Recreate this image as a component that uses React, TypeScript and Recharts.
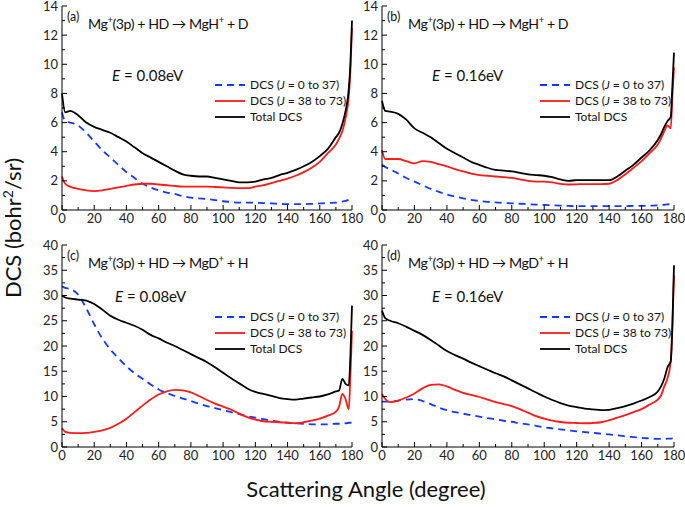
import { LineChart, Line, XAxis, YAxis } from 'recharts';

// scattering angle grid shared by every panel (degree)
const angles = [0, 2, 5, 10, 15, 20, 25, 30, 35, 40, 45, 50, 55, 60, 65, 70, 75, 80, 85, 90, 95, 100, 105, 110, 115, 120, 125, 130, 135, 140, 145, 150, 155, 160, 165, 170, 172, 174, 176, 178, 179, 180];

// (a) MgH+ + D, E = 0.08 eV
const lowJ_a = [6.7, 6.1, 6.0, 5.8, 5.3, 4.7, 4.1, 3.6, 3.1, 2.6, 2.2, 1.8, 1.55, 1.35, 1.2, 1.1, 0.95, 0.85, 0.8, 0.75, 0.68, 0.6, 0.55, 0.5, 0.5, 0.5, 0.47, 0.45, 0.42, 0.4, 0.4, 0.4, 0.42, 0.45, 0.48, 0.5, 0.55, 0.58, 0.62, 0.7, 0.75, 0.8];
const highJ_a = [2.3, 1.8, 1.6, 1.45, 1.35, 1.3, 1.35, 1.45, 1.55, 1.65, 1.75, 1.8, 1.8, 1.75, 1.7, 1.65, 1.6, 1.6, 1.6, 1.6, 1.58, 1.55, 1.52, 1.5, 1.5, 1.6, 1.7, 1.85, 2.0, 2.15, 2.35, 2.6, 2.9, 3.3, 3.9, 4.5, 4.9, 5.4, 6.3, 7.8, 9.5, 12.5];
const total_a = [8.0, 6.7, 6.8, 6.5, 6.0, 5.7, 5.5, 5.3, 5.0, 4.7, 4.3, 3.9, 3.6, 3.3, 3.0, 2.7, 2.45, 2.35, 2.3, 2.3, 2.2, 2.1, 2.0, 1.9, 1.9, 1.95, 2.1, 2.2, 2.4, 2.55, 2.75, 3.0, 3.3, 3.7, 4.2, 5.0, 5.3, 5.9, 6.8, 8.3, 10.0, 13.0];

// (b) MgH+ + D, E = 0.16 eV
const lowJ_b = [3.1, 2.95, 2.8, 2.5, 2.2, 1.95, 1.7, 1.45, 1.25, 1.07, 0.93, 0.8, 0.7, 0.62, 0.56, 0.52, 0.48, 0.46, 0.43, 0.4, 0.37, 0.35, 0.32, 0.3, 0.28, 0.27, 0.27, 0.27, 0.27, 0.27, 0.27, 0.27, 0.28, 0.28, 0.3, 0.32, 0.34, 0.36, 0.38, 0.41, 0.43, 0.45];
const highJ_b = [4.1, 3.5, 3.5, 3.5, 3.35, 3.2, 3.35, 3.3, 3.15, 3.0, 2.8, 2.65, 2.5, 2.4, 2.35, 2.3, 2.25, 2.2, 2.1, 2.0, 1.95, 1.95, 1.9, 1.8, 1.75, 1.76, 1.78, 1.78, 1.78, 1.8, 2.05, 2.45, 2.9, 3.35, 3.9, 4.5, 4.9, 5.4, 5.8, 5.6, 7.8, 9.8];
const total_b = [7.5, 6.8, 6.75, 6.6, 6.2, 5.6, 5.3, 5.0, 4.6, 4.2, 3.9, 3.6, 3.3, 3.1, 2.9, 2.75, 2.7, 2.65, 2.55, 2.45, 2.4, 2.35, 2.25, 2.1, 2.0, 2.05, 2.05, 2.05, 2.05, 2.05, 2.3, 2.7, 3.1, 3.6, 4.1, 4.8, 5.2, 5.7, 6.1, 6.4, 8.5, 10.8];

// (c) MgD+ + H, E = 0.08 eV
const lowJ_c = [31.8, 31.5, 31.3, 30.2, 27.5, 24.3, 21.5, 19.3, 17.6, 16.0, 14.6, 13.5, 12.4, 11.4, 10.7, 10.1, 9.6, 9.1, 8.6, 8.1, 7.7, 7.3, 6.9, 6.5, 6.1, 5.8, 5.5, 5.2, 5.0, 4.8, 4.7, 4.6, 4.5, 4.5, 4.5, 4.6, 4.6, 4.7, 4.7, 4.8, 4.8, 4.9];
const highJ_c = [3.7, 3.0, 2.8, 2.75, 2.8, 3.0, 3.3, 3.8, 4.6, 5.6, 6.9, 8.2, 9.4, 10.4, 11.0, 11.3, 11.2, 10.8, 10.1, 9.3, 8.6, 8.0, 7.4, 6.6, 5.9, 5.4, 5.1, 5.0, 4.9, 4.8, 4.7, 4.9, 5.2, 5.6, 6.2, 7.0, 8.0, 10.5, 9.5, 7.5, 14.0, 23.0];
const total_c = [30.0, 29.6, 29.4, 29.2, 29.0, 28.3, 27.2, 26.0, 25.2, 24.6, 24.0, 23.2, 22.2, 21.5, 20.7, 20.0, 19.2, 18.4, 17.6, 16.8, 15.8, 14.7, 13.6, 12.6, 11.6, 10.9, 10.5, 10.1, 9.7, 9.5, 9.4, 9.6, 9.8, 10.0, 10.4, 11.0, 11.2, 13.5, 12.5, 12.2, 18.0, 28.0];

// (d) MgD+ + H, E = 0.16 eV
const lowJ_d = [9.0, 9.0, 9.0, 9.2, 9.4, 9.5, 9.1, 8.5, 7.8, 7.3, 6.9, 6.6, 6.3, 6.0, 5.7, 5.5, 5.2, 5.0, 4.7, 4.5, 4.2, 3.9, 3.7, 3.5, 3.3, 3.1, 2.95, 2.8, 2.65, 2.5, 2.3, 2.1, 1.95, 1.8, 1.7, 1.6, 1.6, 1.6, 1.65, 1.65, 1.7, 1.7];
const highJ_d = [10.5, 9.5, 8.9, 9.2, 9.8, 10.6, 11.6, 12.3, 12.4, 12.0, 11.3, 10.7, 10.3, 9.9, 9.4, 8.9, 8.5, 8.1, 7.5, 6.8, 6.1, 5.6, 5.2, 4.95, 4.8, 4.75, 4.7, 4.75, 4.9, 5.3, 5.8, 6.3, 6.9, 7.5, 8.4, 9.4, 10.2, 12.0, 13.6, 17.0, 24.0, 34.0];
const total_d = [27.0, 25.5, 25.0, 24.5, 23.8, 23.0, 22.2, 21.2, 20.1, 19.0, 18.2, 17.5, 16.7, 16.0, 15.3, 14.6, 14.0, 13.2, 12.4, 11.6, 10.8, 10.0, 9.3, 8.7, 8.2, 7.9, 7.6, 7.45, 7.3, 7.35, 7.7, 8.1, 8.6, 9.2, 9.9, 11.0, 12.0, 13.5, 15.8, 17.0, 24.0, 36.0];

const xTicks = [0, 10, 20, 30, 40, 50, 60, 70, 80, 90, 100, 110, 120, 130, 140, 150, 160, 170, 180];
const yTicksSmall = [0, 1, 2, 3, 4, 5, 6, 7, 8, 9, 10, 11, 12, 13, 14];
const yTicksLarge = [0, 2.5, 5, 7.5, 10, 12.5, 15, 17.5, 20, 22.5, 25, 27.5, 30, 32.5, 35, 37.5, 40];

const FONT = 'Lato, "DejaVu Sans", sans-serif';
const BLUE = '#1438ff';
const RED = '#ff1a1a';

const legendLabels = [
  { range: '0 to 37', color: BLUE, dash: '7 5' },
  { range: '38 to 73', color: RED, dash: undefined },
];

function buildRows(low: number[], high: number[], total: number[]) {
  return angles.map((a, i) => ({ angle: a, low: low[i], high: high[i], total: total[i] }));
}

// inward tick marks, labels only on the major ones
function AxisTick(props: any) {
  const { x, y, payload, side, major, labels } = props;
  const v = payload.value as number;
  const isMajor = Math.abs(v / major - Math.round(v / major)) < 1e-6;
  const len = isMajor ? 5 : 3;
  const txt = labels && isMajor;
  if (side === 'bottom') {
    return (
      <g>
        <line x1={x} y1={y} x2={x} y2={y - len} stroke="#000" />
        {txt && <text x={x} y={y + 13} textAnchor="middle" fontSize={13} fill="#222" fontFamily={FONT}>{v}</text>}
      </g>
    );
  }
  if (side === 'top') return <line x1={x} y1={y} x2={x} y2={y + len} stroke="#000" />;
  if (side === 'left') {
    return (
      <g>
        <line x1={x} y1={y} x2={x + len} y2={y} stroke="#000" />
        {txt && <text x={x - 4} y={y + 4.5} textAnchor="end" fontSize={13} fill="#222" fontFamily={FONT}>{v}</text>}
      </g>
    );
  }
  return <line x1={x} y1={y} x2={x - len} y2={y} stroke="#000" />;
}

interface PanelProps {
  left: number;
  top: number;
  width: number;
  height: number;
  right: number;
  yMax: number;
  yTicks: number[];
  yMajor: number;
  rows: { angle: number; low: number; high: number; total: number }[];
}

function Panel({ left, top, width, height, right, yMax, yTicks, yMajor, rows }: PanelProps) {
  const axisCommon = { tickSize: 0, tickMargin: 0, tickLine: false, interval: 0 as const, axisLine: { stroke: '#000' } };
  return (
    <div style={{ position: 'absolute', left, top }}>
      <LineChart width={width} height={height} data={rows} margin={{ top: 16, right, bottom: 0, left: 0 }}>
        <XAxis dataKey="angle" type="number" domain={[0, 180]} ticks={xTicks} height={25} {...axisCommon}
          tick={<AxisTick side="bottom" major={20} labels />} />
        <XAxis xAxisId="top" orientation="top" dataKey="angle" type="number" domain={[0, 180]} ticks={xTicks} height={0} {...axisCommon}
          tick={<AxisTick side="top" major={20} />} />
        <YAxis type="number" domain={[0, yMax]} ticks={yTicks} width={62} allowDataOverflow {...axisCommon}
          tick={<AxisTick side="left" major={yMajor} labels />} />
        <YAxis yAxisId="right" orientation="right" type="number" domain={[0, yMax]} ticks={yTicks} width={0} {...axisCommon}
          tick={<AxisTick side="right" major={yMajor} />} />
        <Line type="monotone" dataKey="low" stroke={BLUE} strokeWidth={1.8} strokeDasharray="7 5" dot={false} isAnimationActive={false} />
        <Line type="monotone" dataKey="high" stroke={RED} strokeWidth={1.8} dot={false} isAnimationActive={false} />
        <Line type="monotone" dataKey="total" stroke="#000" strokeWidth={1.8} dot={false} isAnimationActive={false} />
      </LineChart>
    </div>
  );
}

function Reaction({ x, y, tag, product, leftover }: { x: number; y: number; tag: string; product: string; leftover: string }) {
  return (
    <g fontFamily={FONT} fill="#111">
      <text x={x - 21} y={y - 8} fontSize={12.5}>{tag}</text>
      <text x={x} y={y} fontSize={14.2} letterSpacing={-0.45}>
        Mg<tspan dy={-6} fontSize={9.5}>+</tspan>
        <tspan dy={6}>{'(3p) + HD \u2192 ' + product}</tspan>
        <tspan dy={-6} fontSize={9.5}>+</tspan>
        <tspan dy={6}>{' + ' + leftover}</tspan>
      </text>
    </g>
  );
}

function Energy({ x, y, value }: { x: number; y: number; value: string }) {
  return (
    <text x={x} y={y} fontSize={15} fontFamily={FONT} fill="#111">
      <tspan fontStyle="italic">E</tspan>{' = ' + value + 'eV'}
    </text>
  );
}

function LegendBox({ x, y }: { x: number; y: number }) {
  return (
    <g fontFamily={FONT} fontSize={12} fill="#111">
      {legendLabels.map((l, i) => (
        <g key={l.range}>
          <line x1={x} x2={x + 30} y1={y + i * 16} y2={y + i * 16} stroke={l.color} strokeWidth={1.8} strokeDasharray={l.dash} />
          <text x={x + 35} y={y + i * 16 + 4}>
            {'DCS ('}<tspan fontStyle="italic">J</tspan>{' = ' + l.range + ')'}
          </text>
        </g>
      ))}
      <line x1={x} x2={x + 30} y1={y + 32} y2={y + 32} stroke="#000" strokeWidth={1.8} />
      <text x={x + 35} y={y + 36}>Total DCS</text>
    </g>
  );
}

export default function App() {
  return (
    <div style={{ position: 'absolute', left: 0, top: 0, width: 685, height: 507, overflow: 'hidden', background: '#fff', fontFamily: FONT }}>
      <Panel left={0} top={-10} width={372} height={245} right={20} yMax={14} yTicks={yTicksSmall} yMajor={2} rows={buildRows(lowJ_a, highJ_a, total_a)} />
      <Panel left={320} top={-10} width={365} height={245} right={11} yMax={14} yTicks={yTicksSmall} yMajor={2} rows={buildRows(lowJ_b, highJ_b, total_b)} />
      <Panel left={0} top={229} width={372} height={243} right={20} yMax={40} yTicks={yTicksLarge} yMajor={5} rows={buildRows(lowJ_c, highJ_c, total_c)} />
      <Panel left={320} top={229} width={365} height={243} right={11} yMax={40} yTicks={yTicksLarge} yMajor={5} rows={buildRows(lowJ_d, highJ_d, total_d)} />
      <svg width={685} height={507} style={{ position: 'absolute', left: 0, top: 0, pointerEvents: 'none' }}>
        <Reaction x={88} y={29} tag="(a)" product="MgH" leftover="D" />
        <Reaction x={408} y={29} tag="(b)" product="MgH" leftover="D" />
        <Reaction x={88} y={268} tag="(c)" product="MgD" leftover="H" />
        <Reaction x={408} y={268} tag="(d)" product="MgD" leftover="H" />
        <Energy x={112} y={81} value="0.08" />
        <Energy x={432} y={81} value="0.16" />
        <Energy x={115} y={302} value="0.08" />
        <Energy x={432} y={302} value="0.16" />
        <LegendBox x={215} y={85} />
        <LegendBox x={540} y={85} />
        <LegendBox x={215} y={317} />
        <LegendBox x={540} y={317} />
        <text transform="translate(21,228) rotate(-90)" textAnchor="middle" fontSize={22} fontFamily={FONT} fill="#111">
          DCS (bohr<tspan dy={-8} fontSize={14}>2</tspan><tspan dy={8}>/sr)</tspan>
        </text>
        <text x={366} y={497} textAnchor="middle" fontSize={22} fontFamily={FONT} fill="#111">Scattering Angle (degree)</text>
      </svg>
    </div>
  );
}
